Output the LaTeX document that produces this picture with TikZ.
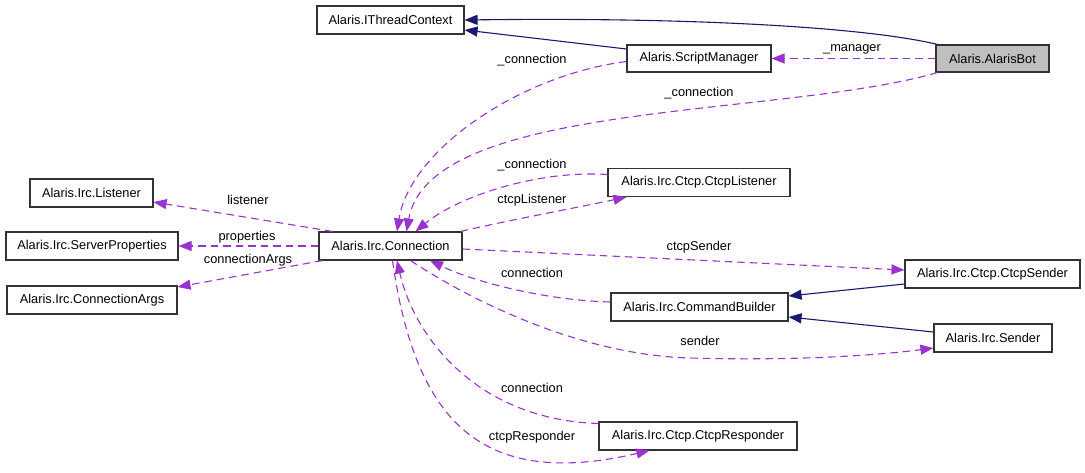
\documentclass[tikz,border=0pt]{standalone}
\usepackage{fontspec}
\setmainfont{Liberation Sans}
\usepackage{xcolor}
\usetikzlibrary{arrows.meta, calc}

\definecolor{refpurple}{HTML}{9A32CD}
\definecolor{inhnavy}{HTML}{191970}

\begin{document}
\begin{tikzpicture}[x=1pt, y=-1pt, >={Triangle[length=13pt, width=10pt]},
    cls/.style={draw=black!80, line width=1.1pt, fill=white, inner sep=0pt,
      minimum height=28pt, font=\fontsize{12.8}{14}\selectfont},
    lbl/.style={inner sep=0pt, font=\fontsize{12.8}{14}\selectfont},
    ref/.style={->, refpurple, line width=1.1pt, dash pattern=on 7.5pt off 5pt},
    inh/.style={->, inhnavy, line width=1.1pt}]
  \useasboundingbox (0,0) rectangle (1085,472);

  % classes
  \node[cls, minimum width=147pt] (ithread) at (390.5,20) {Alaris.IThreadContext};
  \node[cls, minimum width=144pt, minimum height=27pt] (scriptmgr) at (699,58.5) {Alaris.ScriptManager};
  \node[cls, minimum width=113pt, minimum height=27pt, fill=black!25] (bot) at (992.5,58.5) {Alaris.AlarisBot};
  \node[cls, minimum width=123pt] (listener) at (91.5,193) {Alaris.Irc.Listener};
  \node[cls, minimum width=172pt] (srvprops) at (92,246) {Alaris.Irc.ServerProperties};
  \node[cls, minimum width=170pt] (connargs) at (92,300) {Alaris.Irc.ConnectionArgs};
  \node[cls, minimum width=143pt] (conn) at (390.5,246) {Alaris.Irc.Connection};
  \node[cls, minimum width=182pt] (ctcplistener) at (699,182.5) {Alaris.Irc.Ctcp.CtcpListener};
  \node[cls, minimum width=175pt] (ctcpsender) at (992.5,274) {Alaris.Irc.Ctcp.CtcpSender};
  \node[cls, minimum width=177pt] (cmdbuilder) at (699.5,307) {Alaris.Irc.CommandBuilder};
  \node[cls, minimum width=118pt] (sender) at (993,338) {Alaris.Irc.Sender};
  \node[cls, minimum width=198pt] (ctcpresponder) at (698,436) {Alaris.Irc.Ctcp.CtcpResponder};

  % inheritance
  \draw[inh] ($(bot.north west)+(2,0)$) .. controls (870,28) and (700,17) .. (ithread.east);
  \draw[inh] ($(scriptmgr.west)+(0,-9.5)$) -- ($(ithread.east)+(0,10)$);
  \draw[inh] ($(ctcpsender.west)+(0,10)$) -- ($(cmdbuilder.east)+(0,-11)$);
  \draw[inh] ($(sender.west)+(0,-6)$) -- ($(cmdbuilder.east)+(0,10)$);

  % usage
  \draw[ref] (bot.west) -- (scriptmgr.east);
  \draw[ref] ($(scriptmgr.west)+(0,3)$) .. controls (520,75) and (410,150) .. ($(conn.north)+(6.5,0)$);
  \draw[ref] ($(bot.south west)+(2,0)$) .. controls (780,118) and (430,100) .. ($(conn.north)+(16,0)$);
  \draw[ref] ($(ctcplistener.west)+(0,-8)$) .. controls (540,170) and (460,195) .. ($(conn.north)+(25,0)$);
  \draw[ref] ($(conn.north east)+(-2,0)$) .. controls (510,220) and (580,207) .. ($(ctcplistener.south west)+(19,0)$);
  \draw[ref] ($(conn.north west)+(14,0)$) -- ($(listener.east)+(0,9)$);
  \draw[ref] (conn.west) -- (srvprops.east);
  \draw[ref] ($(conn.south west)+(4,0)$) -- ($(connargs.east)+(0,-13)$);
  \draw[ref] ($(conn.east)+(0,3)$) -- ($(ctcpsender.west)+(0,-4)$);
  \draw[ref] ($(cmdbuilder.west)+(0,-5)$) .. controls (540,300) and (470,280) .. ($(conn.south)+(39.5,0)$);
  \draw[ref] ($(conn.south)+(20,0)$) .. controls (470,300) and (580,355) .. (690,358)
    .. controls (800,361) and (880,355) .. ($(sender.west)+(0,10)$);
  \draw[ref] ($(ctcpresponder.north west)+(0,2)$) .. controls (480,420) and (415,340) .. ($(conn.south)+(6.5,0)$);
  \draw[ref] ($(conn.south)+(2,0)$) .. controls (415,420) and (480,490) .. ($(ctcpresponder.south west)+(51,0)$);

  % labels
  \node[lbl] (lmanager) at (852,49) {\_manager};
  \node[lbl] (lsmconn) at (532,60) {\_connection};
  \node[lbl] (lbotconn) at (699,93) {\_connection};
  \node[lbl] (lclconn) at (532,165) {\_connection};
  \node[lbl] (lctcplistener) at (532,200) {ctcpListener};
  \node[lbl] (llistener) at (248,200) {listener};
  \node[lbl] (lproperties) at (247,237) {properties};
  \node[lbl] (lconnargs) at (248,260) {connectionArgs};
  \node[lbl] (lctcpsender) at (699,247) {ctcpSender};
  \node[lbl] (lcbconn) at (532,273) {connection};
  \node[lbl] (lsender) at (700,341) {sender};
  \node[lbl] (lcrconn) at (532,388) {connection};
  \node[lbl] (lctcpresponder) at (532,437) {ctcpResponder};
\end{tikzpicture}
\end{document}
